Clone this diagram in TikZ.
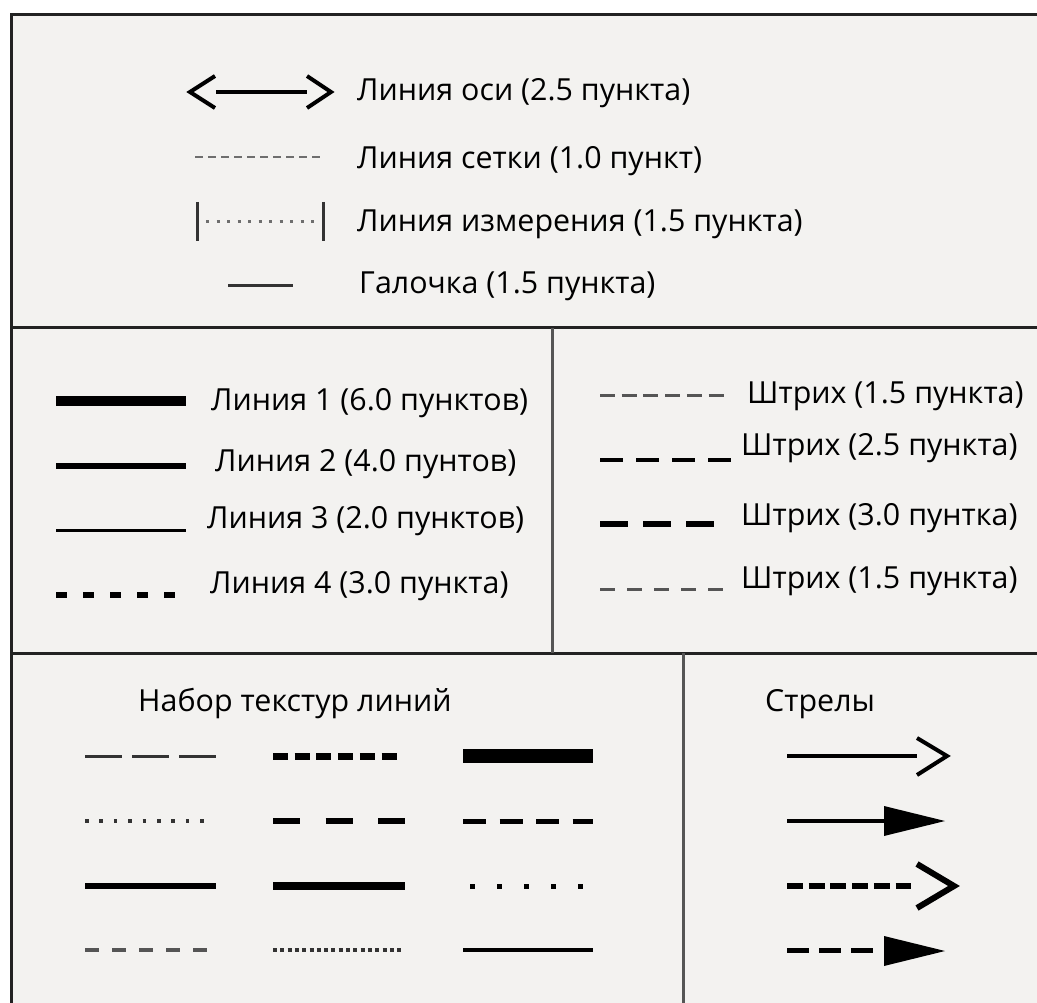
\documentclass[tikz,border=0pt]{standalone}
\usepackage{fontspec}
\setmainfont{Open Sans}
\definecolor{bgc}{HTML}{F3F2F0}
\definecolor{framec}{HTML}{222222}
\definecolor{divc}{HTML}{555555}
\definecolor{gryA}{HTML}{6E6E6E}
\definecolor{gryB}{HTML}{555555}
\definecolor{gryC}{HTML}{333333}
\begin{document}
\begin{tikzpicture}[x=1pt,y=-1pt,
  lbl/.style={anchor=west,inner sep=0pt,font=\fontsize{30.4}{36}\selectfont,text=black},
  framel/.style={line width=3pt,draw=framec},
  vdiv/.style={line width=3pt,draw=divc},
  smp/.style={draw=black,line cap=butt},
  chev/.style={draw=black,line join=miter,line cap=butt},
  tri/.style={fill=black}]
\useasboundingbox (0,0) rectangle (1037,1003);
\fill[white] (0,0) rectangle (1037,1003);
\fill[bgc] (11,15) rectangle (1037,1003);
% frame and dividers
\draw[framel] (11,1003) -- (11,15) -- (1037,15);
\draw[framel] (11,328) -- (1037,328);
\draw[framel] (11,653) -- (1037,653);
\draw[vdiv] (552,328) -- (552,653);
\draw[vdiv] (683,653) -- (683,1003);

% ---------- top section ----------
\draw[smp,line width=3.5pt] (216,92) -- (307,92);
\draw[chev,line width=4pt] (215,76) -- (190,92) -- (215,108);
\draw[chev,line width=4pt] (307,76) -- (331,92) -- (307,108);
\node[lbl] (tAxis) at (357,93) {Линия оси (2.5 пункта)};

\draw[smp,draw=gryA,line width=2.8pt,dash pattern=on 8pt off 5pt] (195,157) -- (322,157);
\node[lbl] (tGrid) at (357,161) {Линия сетки (1.0 пункт)};

\draw[smp,draw=gryC,line width=3pt] (197,202) -- (197,241);
\draw[smp,draw=gryC,line width=3pt] (323,202) -- (323,241);
\draw[smp,draw=gryA,line width=3pt,dash pattern=on 3pt off 7.5pt] (206,222) -- (318,222);
\node[lbl] (tDim) at (357,224) {Линия измерения (1.5 пункта)};

\draw[smp,draw=gryC,line width=3pt] (228,286) -- (293,286);
\node[lbl] (tTick) at (359,286) {Галочка (1.5 пункта)};

% ---------- middle left ----------
\draw[smp,line width=9.5pt] (56,401) -- (186,401);
\node[lbl] (tL1) at (211,403) {Линия 1 (6.0 пунктов)};
\draw[smp,line width=6.5pt] (56,466) -- (186,466);
\node[lbl] (tL2) at (215,464) {Линия 2 (4.0 пунтов)};
\draw[smp,line width=3pt] (56,530) -- (186,530);
\node[lbl] (tL3) at (207,521) {Линия 3 (2.0 пунктов)};
\draw[smp,line width=6pt,dash pattern=on 11pt off 16pt] (56,595) -- (176,595);
\node[lbl] (tL4) at (210,586) {Линия 4 (3.0 пункта)};

% ---------- middle right ----------
\draw[smp,draw=gryB,line width=3pt,dash pattern=on 15pt off 6.7pt] (600,395) -- (724,395);
\node[lbl] (tS1) at (747,396) {Штрих (1.5 пункта)};
\draw[smp,line width=4.5pt,dash pattern=on 23pt off 13pt] (600,460) -- (732,460);
\node[lbl] (tS2) at (741,448) {Штрих (2.5 пункта)};
\draw[smp,line width=6pt,dash pattern=on 28pt off 15pt] (600,524) -- (715,524);
\node[lbl] (tS3) at (741,518) {Штрих (3.0 пунтка)};
\draw[smp,draw=gryB,line width=3pt,dash pattern=on 15pt off 12pt] (600,589) -- (723,589);
\node[lbl] (tS4) at (741,581) {Штрих (1.5 пункта)};

% ---------- bottom left ----------
\node[lbl] (tSet) at (138,704) {Набор текстур линий};
% row 1
\draw[smp,draw=gryC,line width=3pt,dash pattern=on 37pt off 10pt] (85,756) -- (216,756);
\draw[smp,line width=7pt,dash pattern=on 15pt off 6.7pt] (273,756) -- (397,756);
\draw[smp,line width=14pt] (463,756) -- (593,756);
% row 2
\draw[smp,draw=gryC,line width=3.5pt,dash pattern=on 3.5pt off 10.9pt] (85,821) -- (205,821);
\draw[smp,line width=6pt,dash pattern=on 27pt off 25.5pt] (273,821) -- (405,821);
\draw[smp,line width=5pt,dash pattern=on 23pt off 13.5pt] (463,821) -- (593,821);
% row 3
\draw[smp,line width=5.5pt] (85,886) -- (216,886);
\draw[smp,line width=8pt] (273,886) -- (405,886);
\draw[smp,line width=5pt,dash pattern=on 5pt off 22pt] (470,886) -- (583,886);
% row 4
\draw[smp,draw=gryB,line width=4pt,dash pattern=on 14pt off 13pt] (85,950) -- (207,950);
\draw[smp,draw=gryC,line width=4pt,dash pattern=on 4pt off 3.3pt] (273,950) -- (401,950);
\draw[smp,line width=4pt] (463,950) -- (593,950);

% ---------- bottom right ----------
\node[lbl] (tArr) at (765,704) {Стрелы};
\coordinate (a1s) at (787,756); \coordinate (a1e) at (917,756);
\draw[smp,line width=3.5pt] (a1s) -- (a1e);
\draw[chev,line width=4pt] (917,738) -- (947,756) -- (917,775);

\coordinate (a2s) at (787,821); \coordinate (a2e) at (885,821);
\draw[smp,line width=4pt] (a2s) -- (a2e);
\fill[tri] (884,806) -- (945,821) -- (884,836) -- cycle;

\coordinate (a3s) at (787,886); \coordinate (a3e) at (911,886);
\draw[smp,line width=6pt,dash pattern=on 16pt off 5.7pt] (a3s) -- (a3e);
\draw[chev,line width=6pt] (917,864) -- (954,886) -- (917,908);

\coordinate (a4s) at (787,950); \coordinate (a4e) at (873,950);
\draw[smp,line width=5pt,dash pattern=on 22pt off 10pt] (a4s) -- (a4e);
\fill[tri] (884,936) -- (945,951) -- (884,966) -- cycle;
\end{tikzpicture}
\end{document}
